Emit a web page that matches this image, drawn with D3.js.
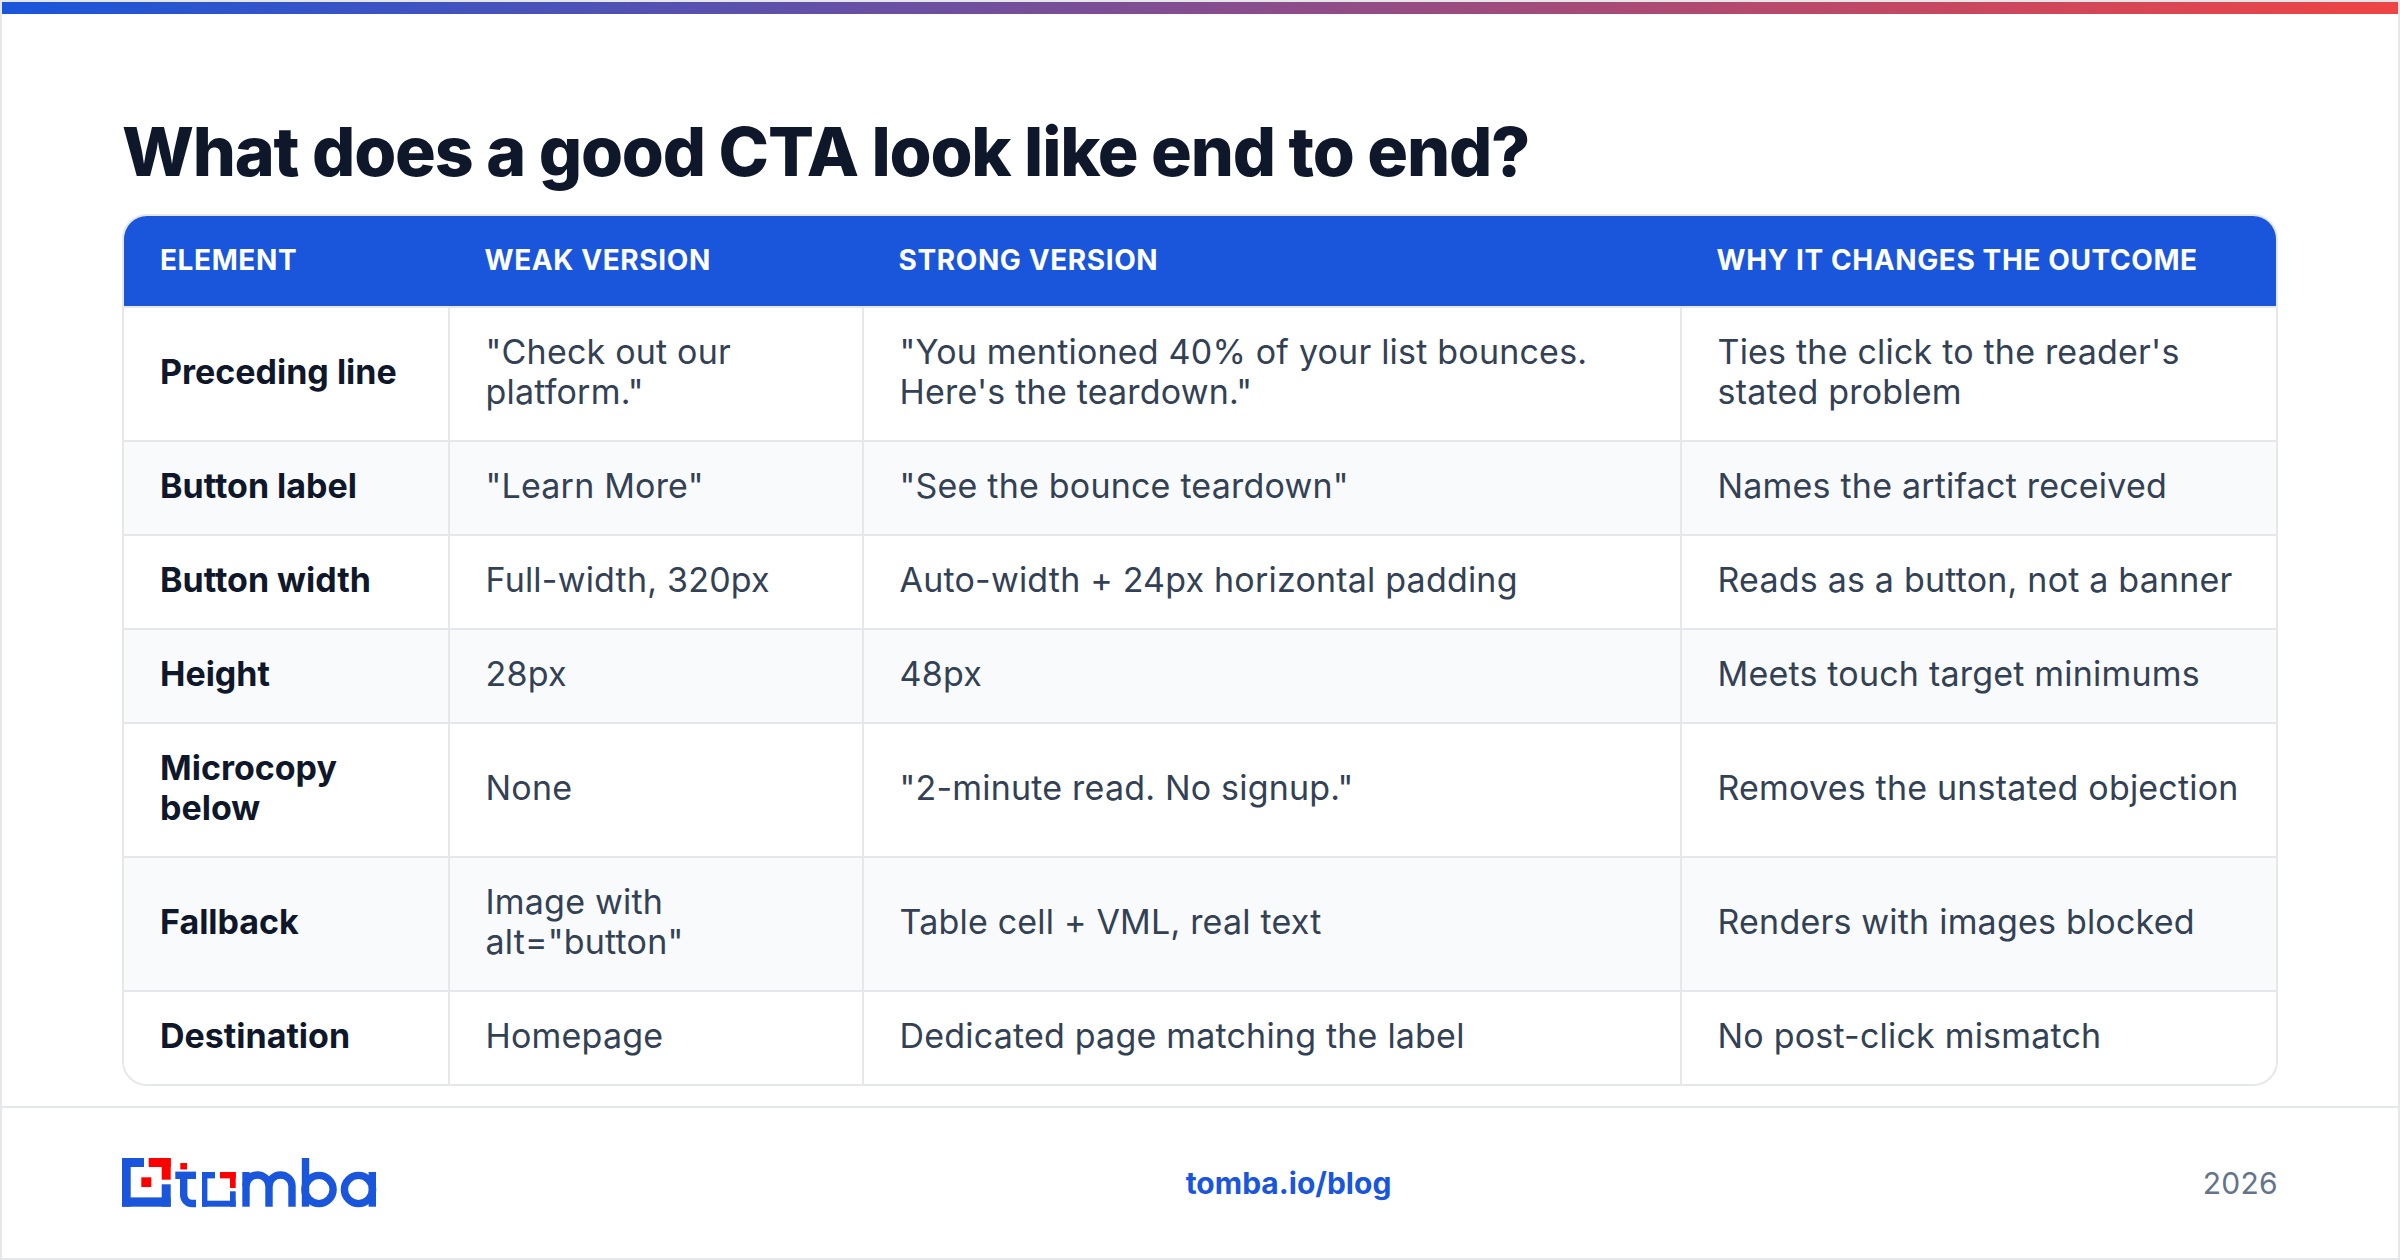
<!DOCTYPE html>
<html>
<head>
<meta charset="utf-8">
<script src="https://cdn.jsdelivr.net/npm/d3@7"></script>
<style>
  html, body { margin: 0; padding: 0; background: #fff; }
  svg { display: block; font-family: Inter, sans-serif; }
</style>
</head>
<body>
<div id="chart"></div>
<script>
// Table content
const titleText = 'What does a good CTA look like end to end?';
const columns = ['ELEMENT', 'WEAK VERSION', 'STRONG VERSION', 'WHY IT CHANGES THE OUTCOME'];
const elements = [['Preceding line'], ['Button label'], ['Button width'], ['Height'], ['Microcopy', 'below'], ['Fallback'], ['Destination']];
const weak = [['"Check out our', 'platform."'], ['"Learn More"'], ['Full-width, 320px'], ['28px'], ['None'], ['Image with', 'alt="button"'], ['Homepage']];
const strong = [['"You mentioned 40% of your list bounces.', 'Here\'s the teardown."'], ['"See the bounce teardown"'], ['Auto-width + 24px horizontal padding'], ['48px'], ['"2-minute read. No signup."'], ['Table cell + VML, real text'], ['Dedicated page matching the label']];
const why = [['Ties the click to the reader\'s', 'stated problem'], ['Names the artifact received'], ['Reads as a button, not a banner'], ['Meets touch target minimums'], ['Removes the unstated objection'], ['Renders with images blocked'], ['No post-click mismatch']];
const footerLink = 'tomba.io/blog';
const footerYear = '2026';

const W = 2400, H = 1260;
const blue = '#1a56db', red = '#ff0000', line = '#e5e7eb', dark = '#0f172a', body = '#334155';

const svg = d3.select('#chart').append('svg').attr('width', W).attr('height', H);
const defs = svg.append('defs');

// top gradient bar
const grad = defs.append('linearGradient').attr('id', 'topbar');
grad.append('stop').attr('offset', '0%').attr('stop-color', blue);
grad.append('stop').attr('offset', '100%').attr('stop-color', '#ef4444');

svg.append('rect').attr('width', W).attr('height', H).attr('fill', '#fff');
svg.append('rect').attr('x', 2).attr('y', 2).attr('width', W - 4).attr('height', 12).attr('fill', 'url(#topbar)');

svg.append('text').text(titleText)
  .attr('x', 122).attr('y', 176)
  .attr('font-size', 68).attr('font-weight', 800).attr('letter-spacing', -1.2).attr('fill', dark);

// table geometry
const colEdges = [123, 449, 863, 1681, 2277];
const x = d3.scaleOrdinal().domain(d3.range(4)).range(colEdges.slice(0, 4));
const tableTop = 216, headH = 90, lineH = 40, padY = 27, radius = 24;
const rowHeights = elements.map((d, i) => padY * 2 + lineH * Math.max(d.length, weak[i].length, strong[i].length, why[i].length));
const rowTops = [tableTop + headH + 1];
rowHeights.forEach(h => rowTops.push(rowTops[rowTops.length - 1] + h));
const tableBottom = rowTops[rowTops.length - 1];

// border sits just outside the blue header
svg.append('rect').attr('x', colEdges[0]).attr('y', tableTop - 1)
  .attr('width', colEdges[4] - colEdges[0]).attr('height', tableBottom - tableTop + 1).attr('rx', radius)
  .attr('fill', 'none').attr('stroke', line).attr('stroke-width', 2);

defs.append('clipPath').attr('id', 'tableClip').append('rect')
  .attr('x', colEdges[0] + 1).attr('y', tableTop)
  .attr('width', colEdges[4] - colEdges[0] - 2).attr('height', tableBottom - tableTop - 1).attr('rx', radius - 1);

const table = svg.append('g').attr('clip-path', 'url(#tableClip)');
table.append('rect').attr('x', colEdges[0]).attr('y', tableTop).attr('width', colEdges[4] - colEdges[0]).attr('height', headH).attr('fill', blue);

// striped rows
table.selectAll('.row').data(elements).enter().append('rect')
  .attr('x', colEdges[0]).attr('y', (d, i) => rowTops[i])
  .attr('width', colEdges[4] - colEdges[0]).attr('height', (d, i) => rowHeights[i])
  .attr('fill', (d, i) => i % 2 ? '#f9fafb' : '#fff');

// row and column rules
table.selectAll('.hline').data(rowTops.slice(0, -1)).enter().append('line')
  .attr('x1', colEdges[0]).attr('x2', colEdges[4]).attr('y1', d => d).attr('y2', d => d)
  .attr('stroke', line).attr('stroke-width', 2);
table.selectAll('.vline').data(colEdges.slice(1, 4)).enter().append('line')
  .attr('x1', d => d).attr('x2', d => d).attr('y1', tableTop + headH).attr('y2', tableBottom)
  .attr('stroke', line).attr('stroke-width', 2);

// header labels
svg.selectAll('.head').data(columns).enter().append('text').text(d => d)
  .attr('x', (d, i) => x(i) + (i === 0 ? 37 : 35.5)).attr('y', tableTop + headH / 2 + 9)
  .attr('font-size', 28).attr('font-weight', 700).attr('letter-spacing', 0.6).attr('fill', '#fff');

// cells
[elements, weak, strong, why].forEach((col, c) => {
  const g = svg.append('g');
  col.forEach((lines, r) => {
    const mid = rowTops[r] + rowHeights[r] / 2;
    lines.forEach((t, k) => {
      g.append('text').text(t)
        .attr('x', x(c) + (c === 0 ? 37 : 36.5))
        .attr('y', mid + (k - (lines.length - 1) / 2) * lineH + 10)
        .attr('font-size', 34).attr('font-weight', c === 0 ? 700 : 400)
        .attr('letter-spacing', c === 0 ? 0 : 0.2)
        .attr('fill', c === 0 ? dark : body);
    });
  });
});

// footer
svg.append('line').attr('x1', 0).attr('x2', W).attr('y1', 1107).attr('y2', 1107).attr('stroke', line).attr('stroke-width', 2);
svg.append('text').text(footerLink).attr('x', 1288.5).attr('y', 1194).attr('text-anchor', 'middle')
  .attr('font-size', 30).attr('font-weight', 700).attr('fill', blue);
svg.append('text').text(footerYear).attr('x', 2278).attr('y', 1194).attr('text-anchor', 'end')
  .attr('font-size', 30).attr('letter-spacing', 0.3).attr('fill', '#64748b');

// logo, drawn from flat bars plus stroked letter shapes
const logo = svg.append('g');
const logoBlue = [[122, 1158, 22, 9], [122, 1158, 8.7, 48.7], [122, 1197.4, 48.7, 9.3], [161.7, 1184.3, 9, 22.4],
  [202, 1172, 5.4, 34.7], [202, 1172, 13, 6.4], [202, 1200.7, 33.7, 6], [230, 1191.3, 5.7, 15.4]];
const logoRed = [[148.7, 1158, 22, 9], [161.7, 1158, 9, 21.7], [141.3, 1177.3, 10, 9.7], [180.3, 1163, 6.7, 6.5],
  [220, 1172, 15.7, 6.4], [230, 1172, 5.7, 16]];
logo.selectAll('.lb').data(logoBlue).enter().append('rect')
  .attr('x', d => d[0]).attr('y', d => d[1]).attr('width', d => d[2]).attr('height', d => d[3]).attr('fill', blue);
logo.selectAll('.lr').data(logoRed).enter().append('rect')
  .attr('x', d => d[0]).attr('y', d => d[1]).attr('width', d => d[2]).attr('height', d => d[3]).attr('fill', red);
const letterPaths = [
  'M175.3 1175.3H196',                                    // t bar
  'M183.7 1175.3V1195a8.5 8.5 0 0 0 8.5 8.5H196',         // t stem
  'M246 1172V1206.7',                                     // m
  'M246 1186a11.5 11 0 0 1 23 0V1206.7',
  'M269 1186a11.5 11 0 0 1 23 0V1206.7',
  'M305.5 1158V1206.7',                                   // b
  'M372.3 1172V1206.7'                                    // a stem
];
logo.selectAll('.lp').data(letterPaths).enter().append('path')
  .attr('d', d => d).attr('fill', 'none').attr('stroke', blue).attr('stroke-width', 7.4);
logo.selectAll('.lc').data([319, 358.5]).enter().append('circle')
  .attr('cx', d => d).attr('cy', 1189.5).attr('r', 14.1)
  .attr('fill', 'none').attr('stroke', blue).attr('stroke-width', 7.4);

// outer frame
svg.append('rect').attr('x', 1).attr('y', 1).attr('width', W - 2).attr('height', H - 2)
  .attr('fill', 'none').attr('stroke', line).attr('stroke-width', 2);
</script>
</body>
</html>
